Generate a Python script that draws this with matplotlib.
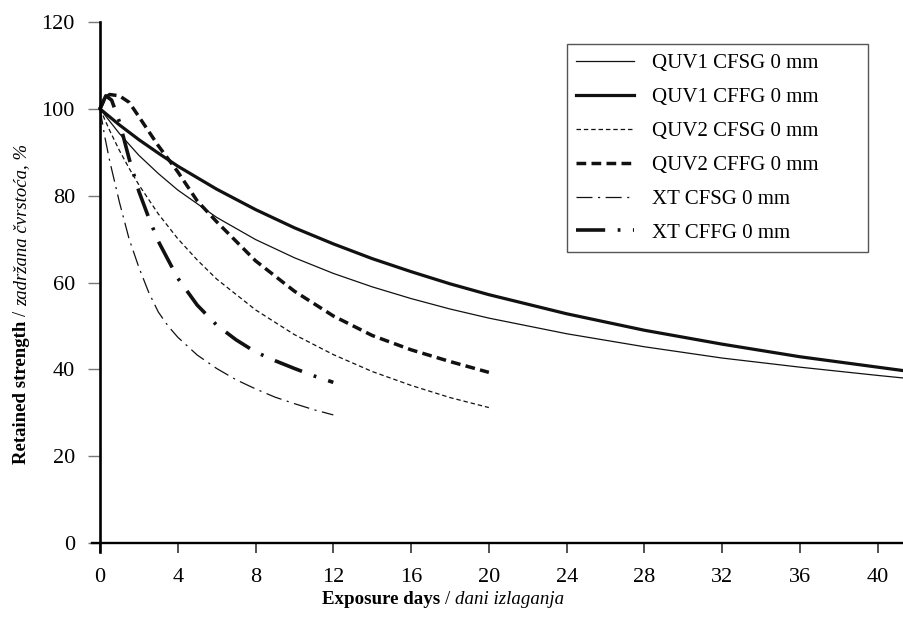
import matplotlib
matplotlib.use('Agg')
import matplotlib.pyplot as plt
from matplotlib.transforms import IdentityTransform

plt.rcParams['font.family'] = 'Liberation Serif'
plt.rcParams['lines.scale_dashes'] = False

# dane
quv1_days = [0, 1, 2, 3, 4, 6, 8, 10, 12, 14, 16, 18, 20, 24, 28, 32, 36, 40, 42]
quv1_cfsg = [100, 94.3, 89.3, 85.1, 81.3, 75.0, 69.9, 65.7, 62.1, 59.0, 56.3, 53.9, 51.8,
             48.2, 45.2, 42.6, 40.5, 38.6, 37.7]
quv1_cffg = [100, 96.3, 92.9, 89.8, 86.8, 81.5, 76.8, 72.6, 68.9, 65.5, 62.5, 59.7, 57.2,
             52.8, 49.0, 45.8, 42.9, 40.5, 39.3]

quv2_days = [0, 0.25, 0.5, 1, 1.5, 2, 3, 4, 5, 6, 8, 10, 12, 14, 16, 18, 20]
quv2_cfsg = [100, 97.5, 95.0, 90.4, 86.3, 82.5, 75.8, 70.1, 65.2, 60.8, 53.7, 48.0, 43.4,
             39.5, 36.3, 33.5, 31.2]
quv2_cffg = [100, 102.5, 103.3, 103.0, 101.5, 98.2, 91.5, 85.5, 78.8, 74.0, 65.0, 58.0, 52.3,
             47.8, 44.5, 41.8, 39.3]

xt_days = [0, 0.25, 0.5, 1, 1.5, 2, 2.5, 3, 3.5, 4, 5, 6, 7, 8, 9, 10, 11, 12]
xt_cfsg = [100, 93.5, 88.0, 78.5, 70.0, 63.5, 57.8, 53.2, 50.0, 47.4, 43.3, 40.2, 37.6, 35.5,
           33.6, 32.1, 30.7, 29.5]
xt_cffg_days = [0, 0.3, 0.6, 1, 1.5, 2, 2.5, 3, 4, 5, 6, 7, 8, 9, 10, 11, 12]
xt_cffg = [100, 103.0, 102.0, 97.0, 88.5, 81.0, 75.0, 69.5, 61.0, 54.8, 50.2, 46.8, 44.0, 42.0,
           40.2, 38.5, 37.0]

fig = plt.figure(figsize=(9.04, 6.26), dpi=100)
W, H = 904, 626
ax = fig.add_axes([92.2 / W, 74.3 / H, 811.8 / W, 529.7 / H])

k = '#111111'
ax.plot(quv1_days, quv1_cfsg, color=k, lw=0.9, label='QUV1 CFSG 0 mm')
ax.plot(quv1_days, quv1_cffg, color=k, lw=2.3, label='QUV1 CFFG 0 mm')
ax.plot(quv2_days, quv2_cfsg, color=k, lw=0.9, dashes=(3.2, 2.1), label='QUV2 CFSG 0 mm')
ax.plot(quv2_days, quv2_cffg, color=k, lw=2.5, dashes=(7.0, 3.8), label='QUV2 CFFG 0 mm')
ax.plot(xt_days, xt_cfsg, color=k, lw=0.9, dashes=(11.5, 4, 1.5, 4), label='XT CFSG 0 mm')
ax.plot(xt_cffg_days, xt_cffg, color=k, lw=2.6, dashes=(21, 9, 2, 9), label='XT CFFG 0 mm')

ax.set_xlim(-0.4, 41.35)
ax.set_ylim(-2, 120)
ax.set_xticks(range(0, 41, 4))
ax.set_yticks(range(0, 121, 20))

for s in ['top', 'right']:
    ax.spines[s].set_visible(False)
ax.spines['left'].set_position(('data', 0))
ax.spines['bottom'].set_position(('data', 0))
ax.spines['left'].set_linewidth(1.9)
ax.spines['bottom'].set_linewidth(1.7)
ax.tick_params(axis='y', direction='out', length=9, width=1, color='#777777', pad=9, labelsize=16)
ax.tick_params(axis='x', direction='out', length=7, width=1.2, color='#333333', pad=11, labelsize=16)

leg = ax.legend(loc='upper left', bbox_to_anchor=(566.7 / W, 1 - 250.7 / H, 301.6 / W, 206.7 / H),
                bbox_transform=fig.transFigure, mode='expand', borderaxespad=0,
                fancybox=False, edgecolor='#555555', framealpha=1, fontsize=15,
                handlelength=2.8, labelspacing=0.69, borderpad=0.45, handletextpad=0.85)
leg.get_frame().set_linewidth(1)


def mixed_label(x, y, pieces, size, rotation=0):
    r = fig.canvas.get_renderer()
    space = 0.25 * size * fig.dpi / 72
    pos = 0
    for s, weight, style in pieces:
        t = fig.text(0, 0, s, fontsize=size, fontweight=weight, fontstyle=style,
                     transform=IdentityTransform(), ha='left', va='baseline',
                     rotation_mode='anchor')
        w = t.get_window_extent(r).width
        t.set_rotation(rotation)
        if rotation == 0:
            t.set_position((x + pos, y))
        else:
            t.set_position((x, y + pos))
        pos += w + space


mixed_label(322, 22, [('Exposure days', 'bold', 'normal'), ('/', 'normal', 'normal'),
                      ('dani izlaganja', 'normal', 'italic')], 13.6)
mixed_label(26, 162, [('Retained strength', 'bold', 'normal'), ('/', 'normal', 'normal'),
                      ('zadržana čvrstoća, %', 'normal', 'italic')], 13.5, rotation=90)

fig.savefig('out.png', dpi=100)
